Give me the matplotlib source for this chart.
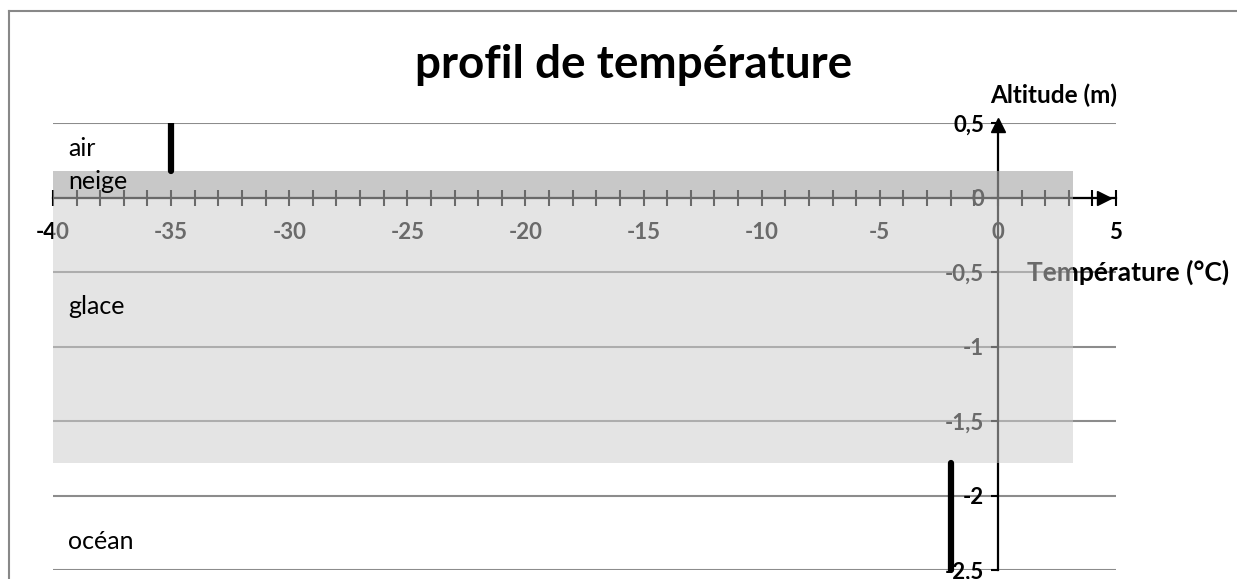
import matplotlib
matplotlib.use('Agg')
import matplotlib.pyplot as plt
from matplotlib.lines import Line2D
from matplotlib.ticker import MultipleLocator

plt.rcParams['font.family'] = ['Lato', 'DejaVu Sans']

# couches : nom, position du libellé (altitude en m)
layer_names = ['air', 'neige', 'glace', 'océan']
layer_label_alt = [0.33, 0.11, -0.73, -2.31]
label_temp = -39.37

# bandes grisées (altitude en m) et leur étendue en température
neige_top, neige_bottom = 0.18, 0.0
glace_top, glace_bottom = 0.0, -1.78
band_temp = [-40, 3.2]

# profil de température (segments en gras)
air_temp = [-35, -35]
air_alt = [0.5, 0.18]
ocean_temp = [-2, -2]
ocean_alt = [-1.78, -2.5]

# axes
x_ticks = [-40, -35, -30, -25, -20, -15, -10, -5, 0, 5]
x_labels = ['-40', '-35', '-30', '-25', '-20', '-15', '-10', '-5', '0', '5']
y_ticks = [0.5, 0, -0.5, -1, -1.5, -2, -2.5]
y_labels = ['0,5', '0', '-0,5', '-1', '-1,5', '-2', '-2,5']

W, H = 1237, 579
fig = plt.figure(figsize=(W / 100, H / 100), dpi=100)
# cadre du graphique (haut et gauche visibles)
fig.add_artist(Line2D([8.5 / W, 1.0], [1 - 10.5 / H] * 2, transform=fig.transFigure,
                      color='#888888', lw=1.5))
fig.add_artist(Line2D([8.5 / W] * 2, [0, 1 - 10.5 / H], transform=fig.transFigure,
                      color='#888888', lw=1.5))

ax = fig.add_axes([53 / W, 9 / H, 1063 / W, 447 / H])
ax.set_xlim(-40, 5)
ax.set_ylim(-2.5, 0.5)
ax.patch.set_visible(False)

for s in ['top', 'right']:
    ax.spines[s].set_visible(False)
ax.spines['left'].set_position(('data', 0))
ax.spines['bottom'].set_position(('data', 0))
for s in ['left', 'bottom']:
    ax.spines[s].set_linewidth(1.6)
    ax.spines[s].set_color('black')

ax.set_xticks(x_ticks)
ax.set_xticklabels(x_labels, fontsize=16, fontweight='bold')
ax.xaxis.set_minor_locator(MultipleLocator(1))
ax.tick_params(axis='x', which='both', direction='inout', length=11, width=1.5, pad=12)
ax.set_yticks(y_ticks)
ax.set_yticklabels(y_labels, fontsize=16, fontweight='bold')
ax.tick_params(axis='y', direction='out', length=5, width=1.5, pad=5)
ax.yaxis.grid(True, color='#8c8c8c', lw=1.5)

# flèches des axes
ax.plot(4.5, 0, marker='>', color='black', markersize=10, clip_on=False, zorder=5)
ax.plot(0, 0.485, marker='^', color='black', markersize=10, clip_on=False, zorder=5)

# bandes neige / glace (par-dessus les axes, semi-transparentes)
ax.fill_between(band_temp, neige_bottom, neige_top, color=(168/255, 168/255, 168/255),
                alpha=0.63, lw=0, zorder=3)
ax.fill_between(band_temp, glace_bottom, glace_top, color=(204/255, 204/255, 204/255),
                alpha=0.52, lw=0, zorder=3)

# profil
ax.plot(air_temp, air_alt, color='black', lw=4.5, solid_capstyle='round', zorder=4)
ax.plot(ocean_temp, ocean_alt, color='black', lw=4.5, solid_capstyle='round', zorder=4,
        clip_on=False)

for name, alt in zip(layer_names, layer_label_alt):
    ax.text(label_temp, alt, name, fontsize=18, va='center', ha='left', zorder=4)

ax.text(1.23, -0.503, 'Température (°C)', fontsize=19, fontweight='bold',
        va='center', ha='left', zorder=2, clip_on=False)
ax.text(2.37, 0.685, 'Altitude (m)', fontsize=17.5, fontweight='bold',
        va='center', ha='center', clip_on=False)

fig.text(634 / W, 1 - 65 / H, 'profil de température', fontsize=33, fontweight='bold',
         ha='center', va='center')

fig.savefig('out.png', dpi=100)
